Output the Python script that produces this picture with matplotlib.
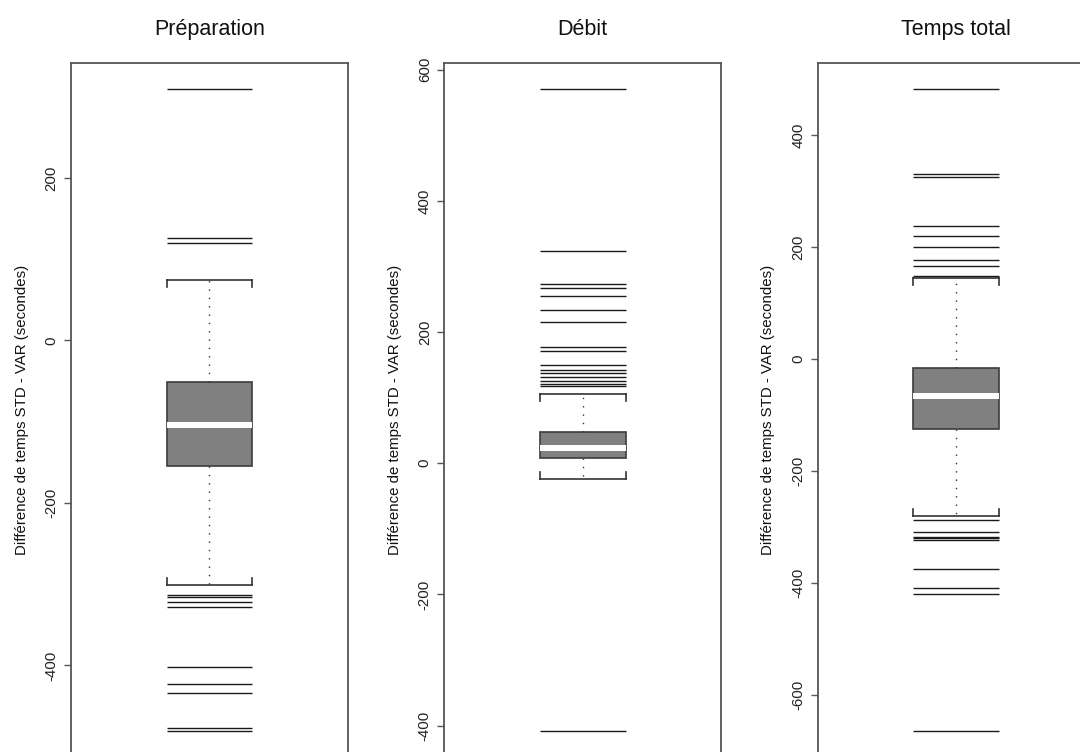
import matplotlib
matplotlib.use("Agg")
import matplotlib.pyplot as plt

plt.rcParams['font.family'] = ['Liberation Sans', 'DejaVu Sans']

titles = ["Préparation", "Débit", "Temps total"]
ylabel = "Différence de temps STD - VAR (secondes)"

# box statistics
q1 = [-154.4, 8.1, -124.7]
med = [-103.9, 22.9, -65.7]
q3 = [-51.7, 48.3, -16.1]
whislo = [-301.4, -24.4, -279.8]
whishi = [74.8, 105.5, 145.0]

out_prep = [309.8, 125.7, 119.5, -313.4, -316.0, -322.4, -328.5,
            -402.0, -423.0, -434.0, -477.0, -481.0]
out_debit = [571.0, 323.7, 273.3, 266.6, 255.0, 233.6, 215.3, 177.1, 170.4,
             149.0, 142.4, 137.9, 131.8, 126.1, 121.5, 118.0, -408.7]
out_total = [483.0, 330.2, 326.0, 238.5, 219.4, 200.4, 176.4, 166.4, 149.0,
             -288.0, -309.5, -318.4, -320.2, -323.8, -375.7, -409.0, -420.4, -665.0]
outliers = [out_prep, out_debit, out_total]

yticks = [[200, 0, -200, -400],
          [600, 400, 200, 0, -200, -400],
          [400, 200, 0, -200, -400, -600]]

W, H = 1080, 752
fig = plt.figure(figsize=(W / 100, H / 100), dpi=100)

lefts_px = [71, 444.3, 817.7]
ax_w_px = 277
top_px, bot_px = 63, 757
frame_col = '#555555'
box_w = 0.31

for i in range(3):
    ax = fig.add_axes([lefts_px[i] / W, (H - bot_px) / H, ax_w_px / W, (bot_px - top_px) / H])
    allv = outliers[i] + [whislo[i], whishi[i], q1[i], q3[i]]
    lo, hi = min(allv), max(allv)
    r = hi - lo
    ymin, ymax = lo - 0.04 * r, hi + 0.04 * r
    ax.set_xlim(0.5, 1.5)
    ax.set_ylim(ymin, ymax)

    stats = [dict(med=med[i], q1=q1[i], q3=q3[i], whislo=whislo[i], whishi=whishi[i], fliers=[])]
    ax.bxp(stats, positions=[1], widths=box_w, patch_artist=True, showfliers=False,
           capwidths=box_w,
           boxprops=dict(facecolor='#808080', edgecolor='#3c3c3c', linewidth=1.2),
           medianprops=dict(color='white', linewidth=4.3, solid_capstyle='butt'),
           whiskerprops=dict(color='#333333', linewidth=1.0, linestyle=(0, (1, 5))),
           capprops=dict(color='#333333', linewidth=1.2))

    # small end ticks on the staples, pointing toward the box
    upp = 7 * (ymax - ymin) / (bot_px - top_px)
    x0, x1 = 1 - box_w / 2, 1 + box_w / 2
    for xx in (x0, x1):
        ax.plot([xx, xx], [whishi[i], whishi[i] - upp], color='#333333', lw=1.2)
        ax.plot([xx, xx], [whislo[i], whislo[i] + upp], color='#333333', lw=1.2)

    ax.hlines(outliers[i], x0, x1, colors='#1a1a1a', linewidth=1.0)

    ax.set_xticks([])
    ax.set_yticks(yticks[i])
    ax.set_yticklabels([str(t) for t in yticks[i]], rotation=90, va='center',
                       fontsize=10.8, color='#222222')
    ax.tick_params(axis='y', length=5, width=1, color=frame_col, pad=4)
    for s in ax.spines.values():
        s.set_color(frame_col)
        s.set_linewidth(1.3)
    ax.set_title(titles[i], fontsize=15.5, pad=20, color='#111111')
    ax.set_ylabel(ylabel, fontsize=10.8, color='#111111')
    ax.yaxis.set_label_coords(-0.153, 0.5)

fig.savefig("out.png", dpi=100)
